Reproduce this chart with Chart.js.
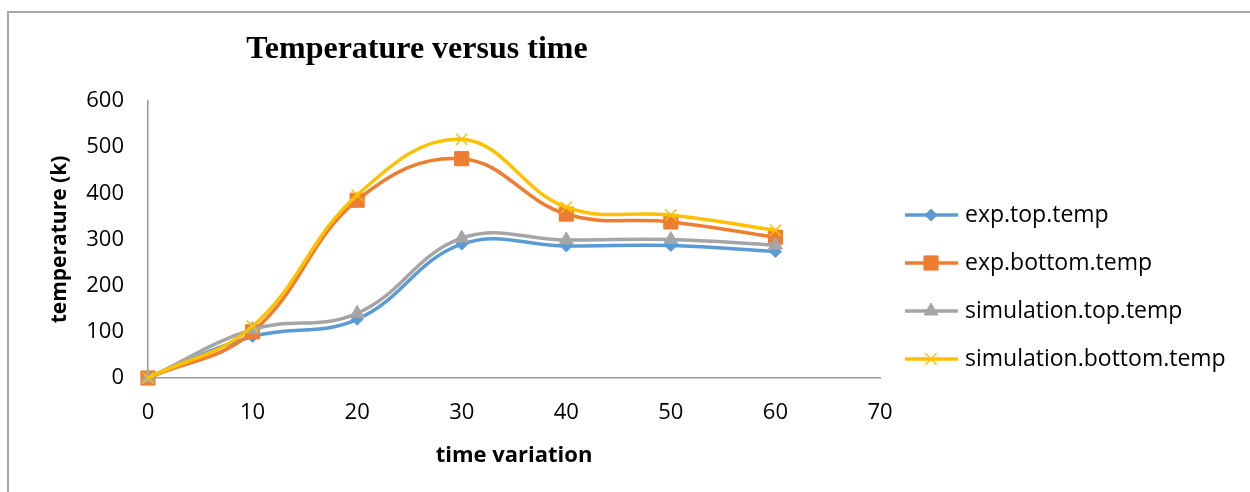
<!DOCTYPE html>
<html>
<head>
<meta charset="utf-8">
<title>Temperature versus time</title>
<script src="https://cdn.jsdelivr.net/npm/chart.js@4.4.1/dist/chart.umd.min.js"></script>
<style>
  html, body { margin: 0; padding: 0; background: #fff; }
  #wrap { width: 1250px; height: 492px; }
</style>
</head>
<body>
<div id="wrap"><canvas id="tempChart" width="1250" height="492"></canvas></div>
<script>
// time (x) and temperature readings (K) for each series
const times = [0, 10, 20, 30, 40, 50, 60];
const expTop = [0, 90, 127, 290, 286, 287, 274];
const expBottom = [0, 100, 385, 475, 355, 338, 305];
const simTop = [0, 105, 140, 303, 299, 300, 288];
const simBottom = [0, 112, 396, 517, 370, 353, 320];

const seriesNames = ["exp.top.temp", "exp.bottom.temp", "simulation.top.temp", "simulation.bottom.temp"];
const xTicks = [0, 10, 20, 30, 40, 50, 60, 70];
const yTicks = [0, 100, 200, 300, 400, 500, 600];

const FONT = "'Open Sans', 'Noto Sans', sans-serif";

function pts(vals) {
  return times.map((t, i) => ({ x: t, y: vals[i] }));
}

const styles = [
  { color: "#5B9BD5", pointStyle: "rectRot", radius: 6, order: 4 },
  { color: "#ED7D31", pointStyle: "rect", radius: 10, order: 3 },
  { color: "#A5A5A5", pointStyle: "triangle", radius: 8, order: 2 },
  { color: "#FFC000", pointStyle: "crossRot", radius: 8, order: 1 }
];

const datasets = [expTop, expBottom, simTop, simBottom].map((vals, i) => ({
  label: seriesNames[i],
  data: pts(vals),
  borderColor: styles[i].color,
  backgroundColor: styles[i].color,
  pointBackgroundColor: styles[i].color,
  pointBorderColor: styles[i].color,
  pointStyle: styles[i].pointStyle,
  pointRadius: styles[i].radius,
  pointBorderWidth: i === 3 ? 1.5 : 1,
  borderWidth: 3.5,
  tension: 0.4,
  fill: false,
  clip: false,
  order: styles[i].order
}));

// frame, title and legend are painted by hand
const decor = {
  id: "decor",
  beforeDraw(chart) {
    const ctx = chart.ctx;
    ctx.save();
    ctx.strokeStyle = "#a6a6a6";
    ctx.lineWidth = 2;
    ctx.beginPath();
    ctx.moveTo(8, 492);
    ctx.lineTo(8, 12);
    ctx.lineTo(1250, 12);
    ctx.stroke();
    ctx.restore();
  },
  afterDraw(chart) {
    const ctx = chart.ctx;
    ctx.save();
    ctx.fillStyle = "#000";
    ctx.font = "bold 32px 'Liberation Serif', 'Times New Roman', serif";
    ctx.textAlign = "center";
    ctx.textBaseline = "middle";
    ctx.fillText("Temperature versus time", 417, 50);

    // legend: line with marker, then label
    ctx.font = "23px " + FONT;
    ctx.textAlign = "left";
    chart.data.datasets.forEach((ds, i) => {
      const y = 215 + i * 48;
      ctx.strokeStyle = ds.borderColor;
      ctx.lineWidth = 3.5;
      ctx.beginPath();
      ctx.moveTo(905, y);
      ctx.lineTo(958, y);
      ctx.stroke();
      ctx.fillStyle = ds.pointBackgroundColor;
      ctx.strokeStyle = ds.pointBorderColor;
      ctx.lineWidth = ds.pointBorderWidth;
      Chart.helpers.drawPoint(ctx, {
        pointStyle: ds.pointStyle,
        radius: ds.pointRadius,
        borderWidth: ds.pointBorderWidth,
        rotation: 0
      }, 931, y);
      ctx.fillStyle = "#000";
      ctx.fillText(ds.label, 965, y);
    });
    ctx.restore();
  }
};

new Chart(document.getElementById("tempChart"), {
  type: "line",
  data: { datasets },
  plugins: [decor],
  options: {
    responsive: false,
    animation: false,
    layout: { padding: { left: 0, top: 101, right: 370, bottom: 0 } },
    plugins: { legend: { display: false }, tooltip: { enabled: false } },
    scales: {
      x: {
        type: "linear",
        min: 0,
        max: 70,
        afterFit: s => { s.height = 114; },
        afterBuildTicks: s => { s.ticks = xTicks.map(v => ({ value: v })); },
        grid: { display: false, drawTicks: false },
        border: { display: true, color: "#999", width: 1.5 },
        ticks: { color: "#000", padding: 22, font: { family: FONT, size: 22 } },
        title: {
          display: true,
          text: "time variation",
          color: "#000",
          padding: { top: 0, bottom: 23 },
          font: { family: FONT, size: 22, weight: "bold" }
        }
      },
      y: {
        min: 0,
        max: 600,
        afterFit: s => { s.width = 148; },
        afterBuildTicks: s => { s.ticks = yTicks.map(v => ({ value: v })); },
        grid: { display: false, drawTicks: false },
        border: { display: true, color: "#999", width: 1.5 },
        ticks: { color: "#000", padding: 24, font: { family: FONT, size: 22 } },
        title: {
          display: true,
          text: "temperature (k)",
          color: "#000",
          padding: { top: 47, bottom: 0 },
          font: { family: FONT, size: 21, weight: "bold" }
        }
      }
    }
  }
});
</script>
</body>
</html>
